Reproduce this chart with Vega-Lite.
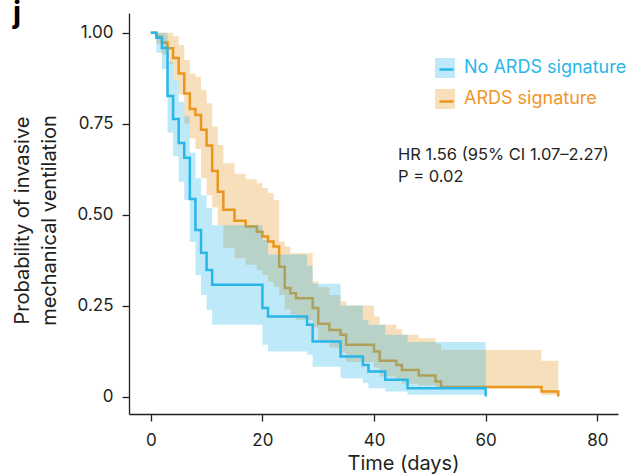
{
  "$schema": "https://vega.github.io/schema/vega-lite/v6.json",
  "width": 489,
  "height": 401,
  "autosize": {"type": "none"},
  "padding": {"left": 129, "top": 13, "right": 13, "bottom": 61},
  "background": "white",
  "config": {
    "font": "Inter",
    "view": {"stroke": null},
    "axis": {
      "domainColor": "#231f20", "domainWidth": 1.3,
      "tickColor": "#231f20", "tickWidth": 1.3, "tickSize": 7,
      "labelFont": "Inter", "labelFontSize": 17, "labelColor": "#231f20",
      "grid": false, "titleFont": "Inter", "titleFontWeight": "normal", "titleColor": "#231f20", "titleFontSize": 20
    },
    "legend": {"padding": 0}
  },
  "title": {"text": "j", "anchor": "start", "frame": "group", "fontSize": 30, "fontWeight": "bold", "font": "Inter", "color": "#000000", "dx": -116, "dy": 40, "offset": 0, "baseline": "alphabetic"},
  "datasets": {
    "km": [
      {"g": "No ARDS signature", "t": 0, "s": 1, "lo": 1, "hi": 1},
      {"g": "No ARDS signature", "t": 1, "s": 0.986, "lo": 0.945, "hi": 1},
      {"g": "No ARDS signature", "t": 2, "s": 0.958, "lo": 0.9, "hi": 1},
      {"g": "No ARDS signature", "t": 3, "s": 0.826, "lo": 0.725, "hi": 0.92},
      {"g": "No ARDS signature", "t": 4, "s": 0.763, "lo": 0.66, "hi": 0.87},
      {"g": "No ARDS signature", "t": 5, "s": 0.697, "lo": 0.59, "hi": 0.81},
      {"g": "No ARDS signature", "t": 6, "s": 0.656, "lo": 0.54, "hi": 0.77},
      {"g": "No ARDS signature", "t": 7, "s": 0.543, "lo": 0.425, "hi": 0.67},
      {"g": "No ARDS signature", "t": 8, "s": 0.458, "lo": 0.334, "hi": 0.6},
      {"g": "No ARDS signature", "t": 9, "s": 0.395, "lo": 0.279, "hi": 0.553},
      {"g": "No ARDS signature", "t": 10, "s": 0.348, "lo": 0.238, "hi": 0.518},
      {"g": "No ARDS signature", "t": 11, "s": 0.307, "lo": 0.197, "hi": 0.471},
      {"g": "No ARDS signature", "t": 20, "s": 0.243, "lo": 0.142, "hi": 0.43},
      {"g": "No ARDS signature", "t": 21, "s": 0.22, "lo": 0.124, "hi": 0.39},
      {"g": "No ARDS signature", "t": 28, "s": 0.197, "lo": 0.115, "hi": 0.36},
      {"g": "No ARDS signature", "t": 29, "s": 0.151, "lo": 0.082, "hi": 0.31},
      {"g": "No ARDS signature", "t": 34, "s": 0.11, "lo": 0.05, "hi": 0.25},
      {"g": "No ARDS signature", "t": 38, "s": 0.087, "lo": 0.037, "hi": 0.21},
      {"g": "No ARDS signature", "t": 39, "s": 0.069, "lo": 0.023, "hi": 0.197},
      {"g": "No ARDS signature", "t": 42, "s": 0.046, "lo": 0.014, "hi": 0.17},
      {"g": "No ARDS signature", "t": 46, "s": 0.023, "lo": 0.005, "hi": 0.15},
      {"g": "No ARDS signature", "t": 60, "s": 0, "lo": 0, "hi": 0},
      {"g": "ARDS signature", "t": 0, "s": 1, "lo": 1, "hi": 1},
      {"g": "ARDS signature", "t": 1, "s": 0.989, "lo": 0.97, "hi": 1},
      {"g": "ARDS signature", "t": 2, "s": 0.973, "lo": 0.94, "hi": 1},
      {"g": "ARDS signature", "t": 3, "s": 0.957, "lo": 0.915, "hi": 1},
      {"g": "ARDS signature", "t": 4, "s": 0.93, "lo": 0.87, "hi": 0.99},
      {"g": "ARDS signature", "t": 5, "s": 0.888, "lo": 0.83, "hi": 0.966},
      {"g": "ARDS signature", "t": 6, "s": 0.833, "lo": 0.75, "hi": 0.925},
      {"g": "ARDS signature", "t": 7, "s": 0.79, "lo": 0.71, "hi": 0.888},
      {"g": "ARDS signature", "t": 8, "s": 0.774, "lo": 0.68, "hi": 0.879},
      {"g": "ARDS signature", "t": 9, "s": 0.733, "lo": 0.6, "hi": 0.843},
      {"g": "ARDS signature", "t": 10, "s": 0.69, "lo": 0.553, "hi": 0.806},
      {"g": "ARDS signature", "t": 11, "s": 0.62, "lo": 0.52, "hi": 0.742},
      {"g": "ARDS signature", "t": 12, "s": 0.563, "lo": 0.471, "hi": 0.691},
      {"g": "ARDS signature", "t": 13, "s": 0.513, "lo": 0.408, "hi": 0.641},
      {"g": "ARDS signature", "t": 15, "s": 0.483, "lo": 0.38, "hi": 0.612},
      {"g": "ARDS signature", "t": 17, "s": 0.467, "lo": 0.362, "hi": 0.597},
      {"g": "ARDS signature", "t": 19, "s": 0.453, "lo": 0.348, "hi": 0.586},
      {"g": "ARDS signature", "t": 20, "s": 0.44, "lo": 0.334, "hi": 0.573},
      {"g": "ARDS signature", "t": 21, "s": 0.426, "lo": 0.316, "hi": 0.559},
      {"g": "ARDS signature", "t": 22, "s": 0.412, "lo": 0.302, "hi": 0.54},
      {"g": "ARDS signature", "t": 23, "s": 0.357, "lo": 0.279, "hi": 0.426},
      {"g": "ARDS signature", "t": 24, "s": 0.298, "lo": 0.24, "hi": 0.412},
      {"g": "ARDS signature", "t": 25, "s": 0.284, "lo": 0.225, "hi": 0.394},
      {"g": "ARDS signature", "t": 26, "s": 0.27, "lo": 0.21, "hi": 0.394},
      {"g": "ARDS signature", "t": 29, "s": 0.243, "lo": 0.19, "hi": 0.316},
      {"g": "ARDS signature", "t": 30, "s": 0.2, "lo": 0.15, "hi": 0.3},
      {"g": "ARDS signature", "t": 32, "s": 0.183, "lo": 0.135, "hi": 0.279},
      {"g": "ARDS signature", "t": 34, "s": 0.17, "lo": 0.12, "hi": 0.262},
      {"g": "ARDS signature", "t": 35, "s": 0.142, "lo": 0.095, "hi": 0.25},
      {"g": "ARDS signature", "t": 40, "s": 0.124, "lo": 0.08, "hi": 0.22},
      {"g": "ARDS signature", "t": 41, "s": 0.098, "lo": 0.055, "hi": 0.197},
      {"g": "ARDS signature", "t": 44, "s": 0.087, "lo": 0.045, "hi": 0.185},
      {"g": "ARDS signature", "t": 45, "s": 0.073, "lo": 0.035, "hi": 0.17},
      {"g": "ARDS signature", "t": 48, "s": 0.058, "lo": 0.03, "hi": 0.16},
      {"g": "ARDS signature", "t": 51, "s": 0.041, "lo": 0.025, "hi": 0.145},
      {"g": "ARDS signature", "t": 52, "s": 0.026, "lo": 0.022, "hi": 0.128},
      {"g": "ARDS signature", "t": 70, "s": 0.014, "lo": 0.004, "hi": 0.098},
      {"g": "ARDS signature", "t": 73, "s": 0, "lo": 0, "hi": 0}
    ]
  },
  "encoding": {
    "x": {"field": "t", "type": "quantitative", "scale": {"domain": [-3.9, 83.7], "nice": false, "zero": false},
      "axis": {"values": [0, 20, 40, 60, 80], "labelPadding": 11, "title": "Time (days)", "titleX": 274, "titleY": 55, "titleBaseline": "alphabetic"}},
    "y": {"type": "quantitative", "scale": {"domain": [-0.048, 1.054], "nice": false, "zero": false}}
  },
  "layer": [
    {
      "data": {"name": "km"},
      "transform": [{"filter": "datum.g === 'ARDS signature'"}],
      "mark": {"type": "area", "interpolate": "step-after", "fillOpacity": 0.3},
      "encoding": {
        "y": {"field": "lo", "type": "quantitative",
          "axis": {"values": [0, 0.25, 0.5, 0.75, 1], "labelExpr": "datum.value === 0 ? '0' : format(datum.value, '.2f')", "labelPadding": 9,
            "title": ["Probability of invasive", "mechanical ventilation"], "titleLineHeight": 27, "titleAngle": -90, "titleX": -101, "titleY": 207, "titleBaseline": "alphabetic", "titleAlign": "center"}},
        "y2": {"field": "hi"},
        "fill": {"field": "g", "type": "nominal", "sort": "descending",
          "scale": {"range": ["#29b6e8", "#e8961e"]},
          "legend": {"orient": "none", "legendX": 306, "legendY": 45, "title": null, "symbolType": "square", "symbolSize": 400, "symbolOpacity": 0.3, "symbolStrokeWidth": 0,
            "labelFontSize": 18, "labelFont": "Inter", "labelOffset": 9, "rowPadding": 11, "labelLimit": 400,
            "encode": {"labels": {"update": {"fill": {"signal": "datum.value === 'ARDS signature' ? '#f0952a' : '#29b6e8'"}}}}}}
      }
    },
    {
      "data": {"name": "km"},
      "transform": [{"filter": "datum.g === 'ARDS signature'"}],
      "mark": {"type": "line", "interpolate": "step-after", "strokeWidth": 2.5},
      "encoding": {
        "y": {"field": "s", "type": "quantitative"},
        "stroke": {"field": "g", "type": "nominal",
          "scale": {"domain": ["No ARDS signature", "ARDS signature"], "range": ["#29b6e8", "#e8961e"]},
          "legend": {"orient": "none", "legendX": 306, "legendY": 45, "title": null, "symbolType": "M-0.7,0H0.7", "symbolSize": 400, "symbolStrokeWidth": 2.5,
            "labelFontSize": 18, "labelFont": "Inter", "labelOffset": 9, "rowPadding": 11, "labelOpacity": 0, "labelLimit": 400}}
      }
    },
    {
      "data": {"name": "km"},
      "transform": [{"filter": "datum.g === 'No ARDS signature'"}],
      "mark": {"type": "area", "interpolate": "step-after", "fillOpacity": 0.3},
      "encoding": {
        "y": {"field": "lo", "type": "quantitative"},
        "y2": {"field": "hi"},
        "fill": {"field": "g", "type": "nominal", "sort": "descending"}
      }
    },
    {
      "data": {"name": "km"},
      "transform": [{"filter": "datum.g === 'No ARDS signature'"}],
      "mark": {"type": "line", "interpolate": "step-after", "strokeWidth": 2.5},
      "encoding": {
        "y": {"field": "s", "type": "quantitative"},
        "stroke": {"field": "g", "type": "nominal"},
        "opacity": {"field": "g", "type": "ordinal",
          "scale": {"range": [1, 1]},
          "legend": {"orient": "none", "legendX": 269, "legendY": 134,
            "title": ["HR 1.56 (95% CI 1.07–2.27)", "P = 0.02"],
            "titleFont": "Inter", "titleFontSize": 16.5, "titleFontWeight": "normal", "titleColor": "#231f20", "titleLineHeight": 22, "titleLimit": 400, "titleAnchor": "start", "titleAlign": "left",
            "symbolOpacity": 0, "symbolSize": 1, "symbolStrokeWidth": 0, "labelExpr": "''", "labelOpacity": 0}}
      }
    }
  ]
}
